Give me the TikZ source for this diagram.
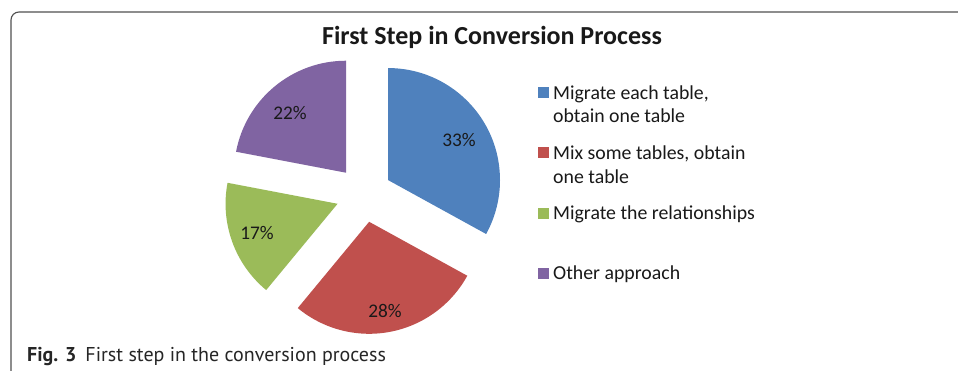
\documentclass[tikz,border=0pt]{standalone}
\usepackage{fontspec}
\setmainfont{Carlito}
\newfontfamily\capfont{PT Sans}
\usetikzlibrary{calc}
\definecolor{cblue}{HTML}{4F81BD}
\definecolor{cred}{HTML}{C0504D}
\definecolor{cgreen}{HTML}{9BBB59}
\definecolor{cpurple}{HTML}{8064A2}
\definecolor{framecol}{HTML}{505050}
\tikzset{
  pct/.style={font=\fontsize{19.3}{22}\selectfont, text=black!90, inner sep=0},
  legtext/.style={font=\fontsize{19.8}{23.5}\selectfont, text=black!90, anchor=west, align=left, inner sep=0},
  legkey/.style={minimum size=11pt, inner sep=0, draw=none},
}
\begin{document}
\begin{tikzpicture}[x=1pt,y=1pt]
\useasboundingbox (0,0) rectangle (958,371);
\fill[white] (0,0) rectangle (958,371);

% frame around the figure
\draw[framecol, line width=1.1pt] (11,0) -- (11,351) arc[start angle=180, end angle=90, radius=8] -- (958,359);

% title
\node[font=\fontsize{26}{30}\selectfont\bfseries, text=black!90] (title) at (492,334) {First Step in Conversion Process};

% exploded pie: slices clockwise from twelve o'clock
\coordinate (C) at (363.9,176.7);
\foreach \a/\b/\col in {90/-28.8/cblue, -28.8/-129.6/cred, -129.6/-190.8/cgreen, -190.8/-270/cpurple}{
  \pgfmathsetmacro{\m}{(\a+\b)/2}
  \fill[\col] ($(C)+(\m:28)$) -- ++(\a:112) arc[start angle=\a, end angle=\b, radius=112] -- cycle;
}

% percentages
\node[pct] (p1) at (459,231) {33\%};
\node[pct] (p2) at (385,60) {28\%};
\node[pct] (p3) at (257,138) {17\%};
\node[pct] (p4) at (290,258) {22\%};

% legend
\node[legkey, fill=cblue] (k1) at (543,278.3) {};
\node[legkey, fill=cred] (k2) at (543,218) {};
\node[legkey, fill=cgreen] (k3) at (543,157) {};
\node[legkey, fill=cpurple] (k4) at (543,97) {};
\node[legtext] (l1) at (553,267) {Migrate each table,\\obtain one table};
\node[legtext] (l2) at (553,206.5) {Mix some tables, obtain\\one table};
\node[legtext] (l3) at (553,157) {Migrate the relationships};
\node[legtext] (l4) at (553,97) {Other approach};

% caption
\node[anchor=west, inner sep=0, font=\capfont\fontsize{20}{23}\selectfont, text=black!85] (cap) at (27,14.3) {\textbf{Fig. 3}\hspace{9pt}First step in the conversion process};
\end{tikzpicture}
\end{document}
